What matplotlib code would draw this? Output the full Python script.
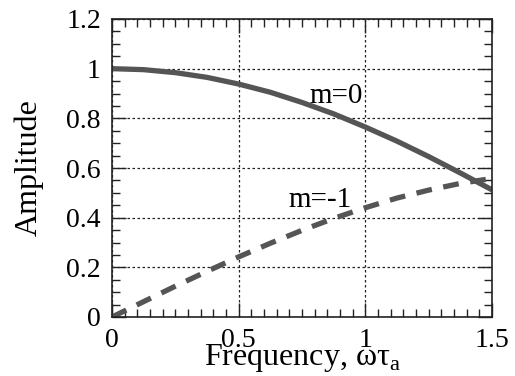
import numpy as np
import matplotlib.pyplot as plt
from matplotlib.ticker import MultipleLocator

# valores
freq = [0.0, 0.125, 0.25, 0.375, 0.5, 0.625, 0.75, 0.875, 1.0, 1.125, 1.25, 1.375, 1.5]
amp_m0 = [1.0, 0.996, 0.984, 0.965, 0.938, 0.905, 0.864, 0.818, 0.765, 0.708, 0.646, 0.580, 0.512]
amp_m1 = [0.0, 0.062, 0.124, 0.184, 0.242, 0.297, 0.349, 0.397, 0.440, 0.479, 0.511, 0.538, 0.558]

plt.rcParams['font.family'] = 'Liberation Serif'
plt.rcParams['mathtext.fontset'] = 'custom'
plt.rcParams['mathtext.rm'] = 'Liberation Serif'

fig = plt.figure(figsize=(5.15, 3.76), dpi=100)
ax = fig.add_axes([112/515, 1 - 317/376, 380/515, 298/376])

ax.plot(freq, amp_m0, color='#555555', lw=3.8, solid_capstyle='butt')
ax.plot(freq, amp_m1, color='#555555', lw=3.8, dashes=(3.0, 2.2))

ax.text(0.78, 0.89, 'm=0', fontsize=21, va='center')
ax.text(0.695, 0.47, 'm=-1', fontsize=21, va='center')

ax.set_xlim(0, 1.5)
ax.set_ylim(0, 1.2)
ax.xaxis.set_minor_locator(MultipleLocator(0.05))
ax.yaxis.set_minor_locator(MultipleLocator(0.05))
ax.set_xticks([0, 0.5, 1.0, 1.5])
ax.set_xticklabels(['0', '0.5', '1', '1.5'])
ax.set_yticks([0, 0.2, 0.4, 0.6, 0.8, 1.0, 1.2])
ax.set_yticklabels(['0', '0.2', '0.4', '0.6', '0.8', '1', '1.2'])
ax.tick_params(which='both', direction='in', top=True, right=True, labelsize=20, color='#222222')
ax.tick_params(which='major', length=10, width=1)
ax.tick_params(axis='x', which='major', pad=8)
ax.tick_params(axis='y', which='major', pad=8)
ax.tick_params(which='minor', length=6, width=1)
ax.grid(True, which='major', linestyle=(0, (2, 2)), color='#222222', lw=0.9)
for s in ax.spines.values():
    s.set_linewidth(1.2)
    s.set_color('#222222')

ax.set_xlabel('Frequency, ωτ$_{\\rm a}$', fontsize=23, labelpad=-8)
ax.set_ylabel('Amplitude', fontsize=23, labelpad=16)

fig.savefig('out.png', dpi=100)
